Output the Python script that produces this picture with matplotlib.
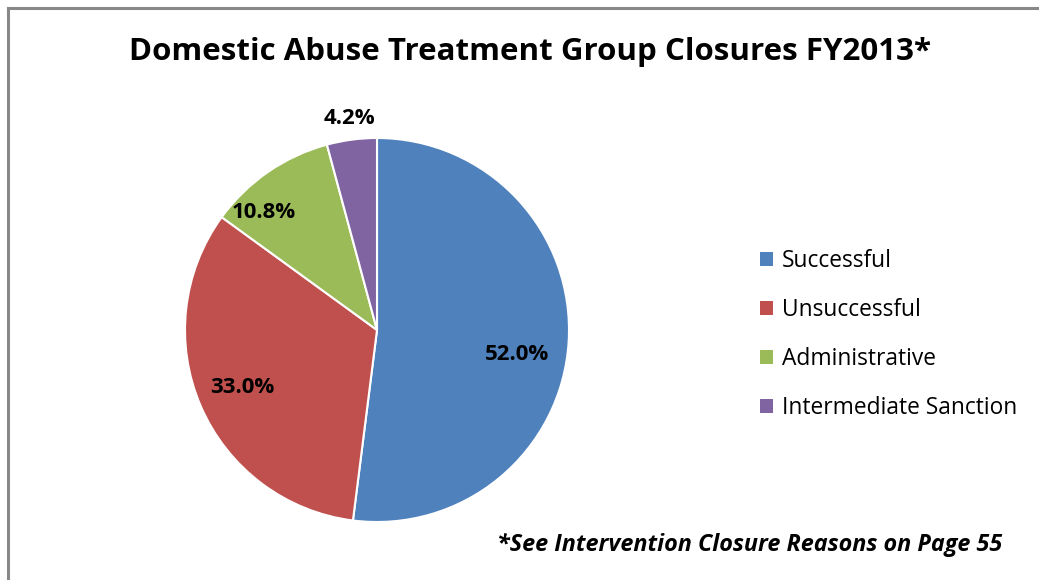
import numpy as np
import matplotlib
matplotlib.use('Agg')
import matplotlib.pyplot as plt
from matplotlib.patches import Patch
from matplotlib.lines import Line2D

plt.rcParams['font.family'] = ['Open Sans', 'DejaVu Sans']

# data
categories = ['Successful', 'Unsuccessful', 'Administrative', 'Intermediate Sanction']
shares = [52.0, 33.0, 10.8, 4.2]
colors = ['#4F81BD', '#C0504D', '#9BBB59', '#8064A2']
title = 'Domestic Abuse Treatment Group Closures FY2013*'
note = '*See Intervention Closure Reasons on Page 55'

# label placement (radius as fraction of pie radius, angle in degrees)
label_pos = [(0.74, -10.1), (0.76, 203.0), (0.85, 134.0), (1.11, 97.4)]

fig = plt.figure(figsize=(10.39, 5.80), dpi=100)
W, H = 1039, 580

ax = fig.add_axes([185 / W, 58 / H, 384 / W, 384 / H])
wedges, _ = ax.pie(shares, colors=colors, startangle=90, counterclock=False,
                   radius=1.0, wedgeprops=dict(edgecolor='white', linewidth=1.5))
ax.set_xlim(-1, 1)
ax.set_ylim(-1, 1)
ax.set_aspect('equal')
ax.axis('off')

for val, (r, a) in zip(shares, label_pos):
    t = np.deg2rad(a)
    ax.text(r * np.cos(t), r * np.sin(t), '%.1f%%' % val, ha='center', va='center',
            fontsize=16, fontweight='bold', color='black', clip_on=False)

fig.text(530 / W, 1 - 52 / H, title, ha='center', va='center',
         fontsize=22.5, fontweight='bold')
fig.text(1002 / W, 1 - 545 / H, note, ha='right', va='center',
         fontsize=16.8, fontweight='bold', style='italic')

handles = [Patch(facecolor=c, edgecolor='none') for c in colors]
leg = fig.legend(handles, categories, loc='upper left',
                 bbox_to_anchor=(751 / W, 1 - 240 / H), frameon=False,
                 fontsize=16.4, handlelength=0.55, handleheight=0.55,
                 handletextpad=0.4, labelspacing=1.1, borderaxespad=0)

# outer border (cut off at right and bottom)
fig.add_artist(Line2D([7.5 / W, 7.5 / W], [0, 1 - 7.5 / H], color='#888888', lw=2.2))
fig.add_artist(Line2D([7.5 / W, 1], [1 - 7.5 / H, 1 - 7.5 / H], color='#888888', lw=2.2))

fig.savefig('out.png', dpi=100)
